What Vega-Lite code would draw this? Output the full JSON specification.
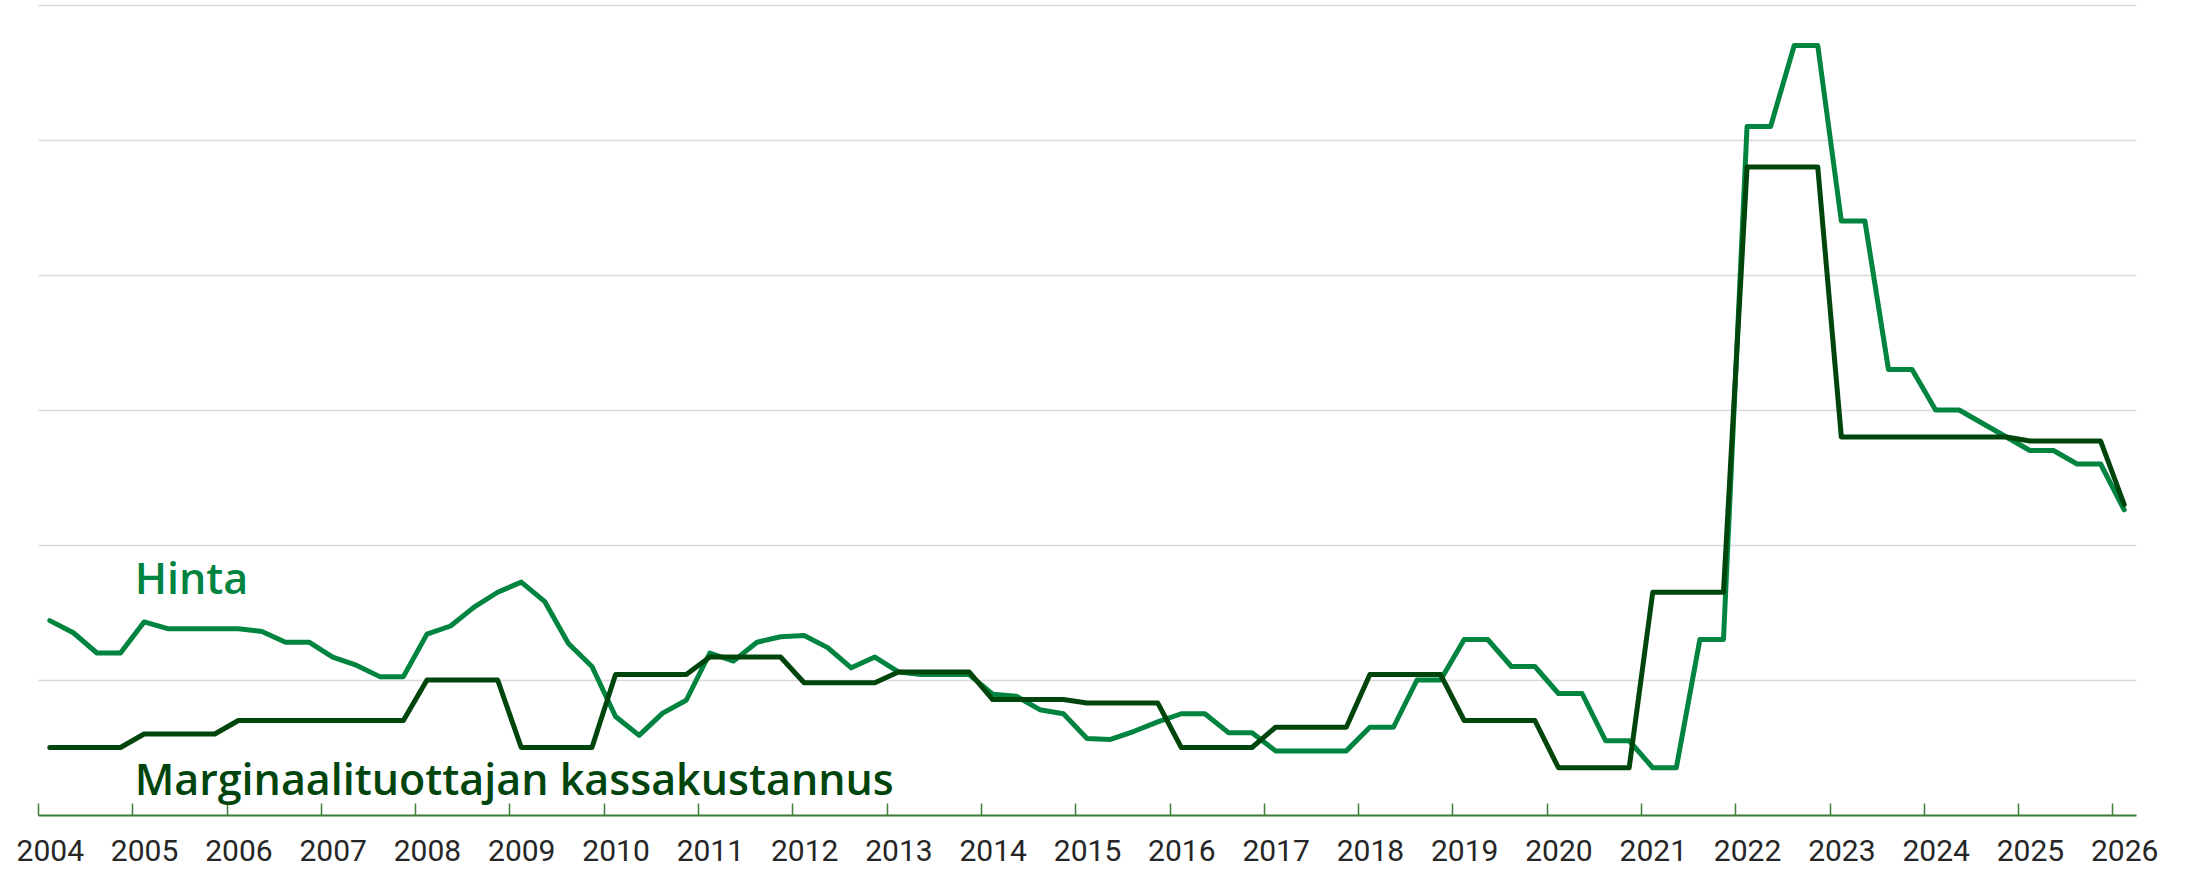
{
  "$schema": "https://vega.github.io/schema/vega-lite/v6.json",
  "width": 2098,
  "height": 810,
  "autosize": {"type": "none"},
  "padding": {"left": 38, "top": 5, "right": 49, "bottom": 57},
  "background": "white",
  "config": {"view": {"stroke": null}},
  "datasets": {
    "series": [
      {"t": 2004.00, "hinta": 14.4, "kustannus": 5.0},
      {"t": 2004.25, "hinta": 13.5, "kustannus": 5.0},
      {"t": 2004.50, "hinta": 12.0, "kustannus": 5.0},
      {"t": 2004.75, "hinta": 12.0, "kustannus": 5.0},
      {"t": 2005.00, "hinta": 14.3, "kustannus": 6.0},
      {"t": 2005.25, "hinta": 13.8, "kustannus": 6.0},
      {"t": 2005.50, "hinta": 13.8, "kustannus": 6.0},
      {"t": 2005.75, "hinta": 13.8, "kustannus": 6.0},
      {"t": 2006.00, "hinta": 13.8, "kustannus": 7.0},
      {"t": 2006.25, "hinta": 13.6, "kustannus": 7.0},
      {"t": 2006.50, "hinta": 12.8, "kustannus": 7.0},
      {"t": 2006.75, "hinta": 12.8, "kustannus": 7.0},
      {"t": 2007.00, "hinta": 11.7, "kustannus": 7.0},
      {"t": 2007.25, "hinta": 11.1, "kustannus": 7.0},
      {"t": 2007.50, "hinta": 10.25, "kustannus": 7.0},
      {"t": 2007.75, "hinta": 10.25, "kustannus": 7.0},
      {"t": 2008.00, "hinta": 13.4, "kustannus": 10.0},
      {"t": 2008.25, "hinta": 14.0, "kustannus": 10.0},
      {"t": 2008.50, "hinta": 15.4, "kustannus": 10.0},
      {"t": 2008.75, "hinta": 16.5, "kustannus": 10.0},
      {"t": 2009.00, "hinta": 17.25, "kustannus": 5.0},
      {"t": 2009.25, "hinta": 15.8, "kustannus": 5.0},
      {"t": 2009.50, "hinta": 12.7, "kustannus": 5.0},
      {"t": 2009.75, "hinta": 11.0, "kustannus": 5.0},
      {"t": 2010.00, "hinta": 7.3, "kustannus": 10.4},
      {"t": 2010.25, "hinta": 5.9, "kustannus": 10.4},
      {"t": 2010.50, "hinta": 7.55, "kustannus": 10.4},
      {"t": 2010.75, "hinta": 8.5, "kustannus": 10.4},
      {"t": 2011.00, "hinta": 12.0, "kustannus": 11.7},
      {"t": 2011.25, "hinta": 11.4, "kustannus": 11.7},
      {"t": 2011.50, "hinta": 12.8, "kustannus": 11.7},
      {"t": 2011.75, "hinta": 13.2, "kustannus": 11.7},
      {"t": 2012.00, "hinta": 13.3, "kustannus": 9.8},
      {"t": 2012.25, "hinta": 12.4, "kustannus": 9.8},
      {"t": 2012.50, "hinta": 10.9, "kustannus": 9.8},
      {"t": 2012.75, "hinta": 11.7, "kustannus": 9.8},
      {"t": 2013.00, "hinta": 10.6, "kustannus": 10.6},
      {"t": 2013.25, "hinta": 10.4, "kustannus": 10.6},
      {"t": 2013.50, "hinta": 10.4, "kustannus": 10.6},
      {"t": 2013.75, "hinta": 10.4, "kustannus": 10.6},
      {"t": 2014.00, "hinta": 8.95, "kustannus": 8.55},
      {"t": 2014.25, "hinta": 8.8, "kustannus": 8.55},
      {"t": 2014.50, "hinta": 7.8, "kustannus": 8.55},
      {"t": 2014.75, "hinta": 7.5, "kustannus": 8.55},
      {"t": 2015.00, "hinta": 5.67, "kustannus": 8.3},
      {"t": 2015.25, "hinta": 5.6, "kustannus": 8.3},
      {"t": 2015.50, "hinta": 6.2, "kustannus": 8.3},
      {"t": 2015.75, "hinta": 6.9, "kustannus": 8.3},
      {"t": 2016.00, "hinta": 7.5, "kustannus": 5.0},
      {"t": 2016.25, "hinta": 7.5, "kustannus": 5.0},
      {"t": 2016.50, "hinta": 6.1, "kustannus": 5.0},
      {"t": 2016.75, "hinta": 6.1, "kustannus": 5.0},
      {"t": 2017.00, "hinta": 4.75, "kustannus": 6.5},
      {"t": 2017.25, "hinta": 4.75, "kustannus": 6.5},
      {"t": 2017.50, "hinta": 4.75, "kustannus": 6.5},
      {"t": 2017.75, "hinta": 4.75, "kustannus": 6.5},
      {"t": 2018.00, "hinta": 6.5, "kustannus": 10.4},
      {"t": 2018.25, "hinta": 6.5, "kustannus": 10.4},
      {"t": 2018.50, "hinta": 10.0, "kustannus": 10.4},
      {"t": 2018.75, "hinta": 10.0, "kustannus": 10.4},
      {"t": 2019.00, "hinta": 13.0, "kustannus": 7.0},
      {"t": 2019.25, "hinta": 13.0, "kustannus": 7.0},
      {"t": 2019.50, "hinta": 11.0, "kustannus": 7.0},
      {"t": 2019.75, "hinta": 11.0, "kustannus": 7.0},
      {"t": 2020.00, "hinta": 9.0, "kustannus": 3.5},
      {"t": 2020.25, "hinta": 9.0, "kustannus": 3.5},
      {"t": 2020.50, "hinta": 5.5, "kustannus": 3.5},
      {"t": 2020.75, "hinta": 5.5, "kustannus": 3.5},
      {"t": 2021.00, "hinta": 3.5, "kustannus": 16.5},
      {"t": 2021.25, "hinta": 3.5, "kustannus": 16.5},
      {"t": 2021.50, "hinta": 13.0, "kustannus": 16.5},
      {"t": 2021.75, "hinta": 13.0, "kustannus": 16.5},
      {"t": 2022.00, "hinta": 51.0, "kustannus": 48.0},
      {"t": 2022.25, "hinta": 51.0, "kustannus": 48.0},
      {"t": 2022.50, "hinta": 57.0, "kustannus": 48.0},
      {"t": 2022.75, "hinta": 57.0, "kustannus": 48.0},
      {"t": 2023.00, "hinta": 44.0, "kustannus": 28.0},
      {"t": 2023.25, "hinta": 44.0, "kustannus": 28.0},
      {"t": 2023.50, "hinta": 33.0, "kustannus": 28.0},
      {"t": 2023.75, "hinta": 33.0, "kustannus": 28.0},
      {"t": 2024.00, "hinta": 30.0, "kustannus": 28.0},
      {"t": 2024.25, "hinta": 30.0, "kustannus": 28.0},
      {"t": 2024.50, "hinta": 29.0, "kustannus": 28.0},
      {"t": 2024.75, "hinta": 28.0, "kustannus": 28.0},
      {"t": 2025.00, "hinta": 27.0, "kustannus": 27.7},
      {"t": 2025.25, "hinta": 27.0, "kustannus": 27.7},
      {"t": 2025.50, "hinta": 26.0, "kustannus": 27.7},
      {"t": 2025.75, "hinta": 26.0, "kustannus": 27.7},
      {"t": 2026.00, "hinta": 22.6, "kustannus": 23.0}
    ],
    "labels": [
      {"label": "Hinta", "t": 2004.9, "v": 16.4},
      {"label": "Marginaalituottajan kassakustannus", "t": 2004.9, "v": 1.5}
    ]
  },
  "layer": [
    {
      "data": {"name": "series"},
      "mark": {"type": "line", "color": "#00843F", "strokeWidth": 5, "strokeJoin": "round", "strokeCap": "round"},
      "encoding": {
        "x": {
          "field": "t", "type": "quantitative",
          "scale": {"domain": [2003.875, 2026.125], "nice": false, "zero": false},
          "axis": {
            "title": null,
            "values": [2003.875, 2004.875, 2005.875, 2006.875, 2007.875, 2008.875, 2009.875, 2010.875, 2011.875, 2012.875, 2013.875, 2014.875, 2015.875, 2016.875, 2017.875, 2018.875, 2019.875, 2020.875, 2021.875, 2022.875, 2023.875, 2024.875, 2025.875],
            "labelExpr": "format(datum.value + 0.125, 'd')",
            "labelOffset": 11.8,
            "tickSize": -12,
            "tickColor": "#3C7D34",
            "tickWidth": 1.5,
            "domainColor": "#3C7D34",
            "domainWidth": 2,
            "grid": false,
            "labelFont": "Roboto",
            "labelFontSize": 30,
            "labelColor": "#262626",
            "labelPadding": 33,
            "labelFlush": false,
            "labelOverlap": false
          }
        },
        "y": {
          "field": "hinta", "type": "quantitative",
          "scale": {"domain": [0, 60], "nice": false},
          "axis": {
            "title": null,
            "values": [10, 20, 30, 40, 50, 60],
            "grid": true,
            "gridColor": "#D9D9D9",
            "gridWidth": 1.5,
            "labels": false,
            "ticks": false,
            "domain": false
          }
        }
      }
    },
    {
      "data": {"name": "series"},
      "mark": {"type": "line", "color": "#00450C", "strokeWidth": 5, "strokeJoin": "round", "strokeCap": "round"},
      "encoding": {
        "x": {"field": "t", "type": "quantitative"},
        "y": {"field": "kustannus", "type": "quantitative"}
      }
    },
    {
      "data": {"name": "labels"},
      "mark": {"type": "text", "align": "left", "baseline": "alphabetic", "font": "Open Sans", "fontSize": 43, "fontWeight": 600},
      "encoding": {
        "x": {"field": "t", "type": "quantitative"},
        "y": {"field": "v", "type": "quantitative"},
        "text": {"field": "label"},
        "color": {
          "field": "label", "type": "nominal",
          "scale": {"domain": ["Hinta", "Marginaalituottajan kassakustannus"], "range": ["#00843F", "#00450C"]},
          "legend": null
        }
      }
    }
  ]
}
